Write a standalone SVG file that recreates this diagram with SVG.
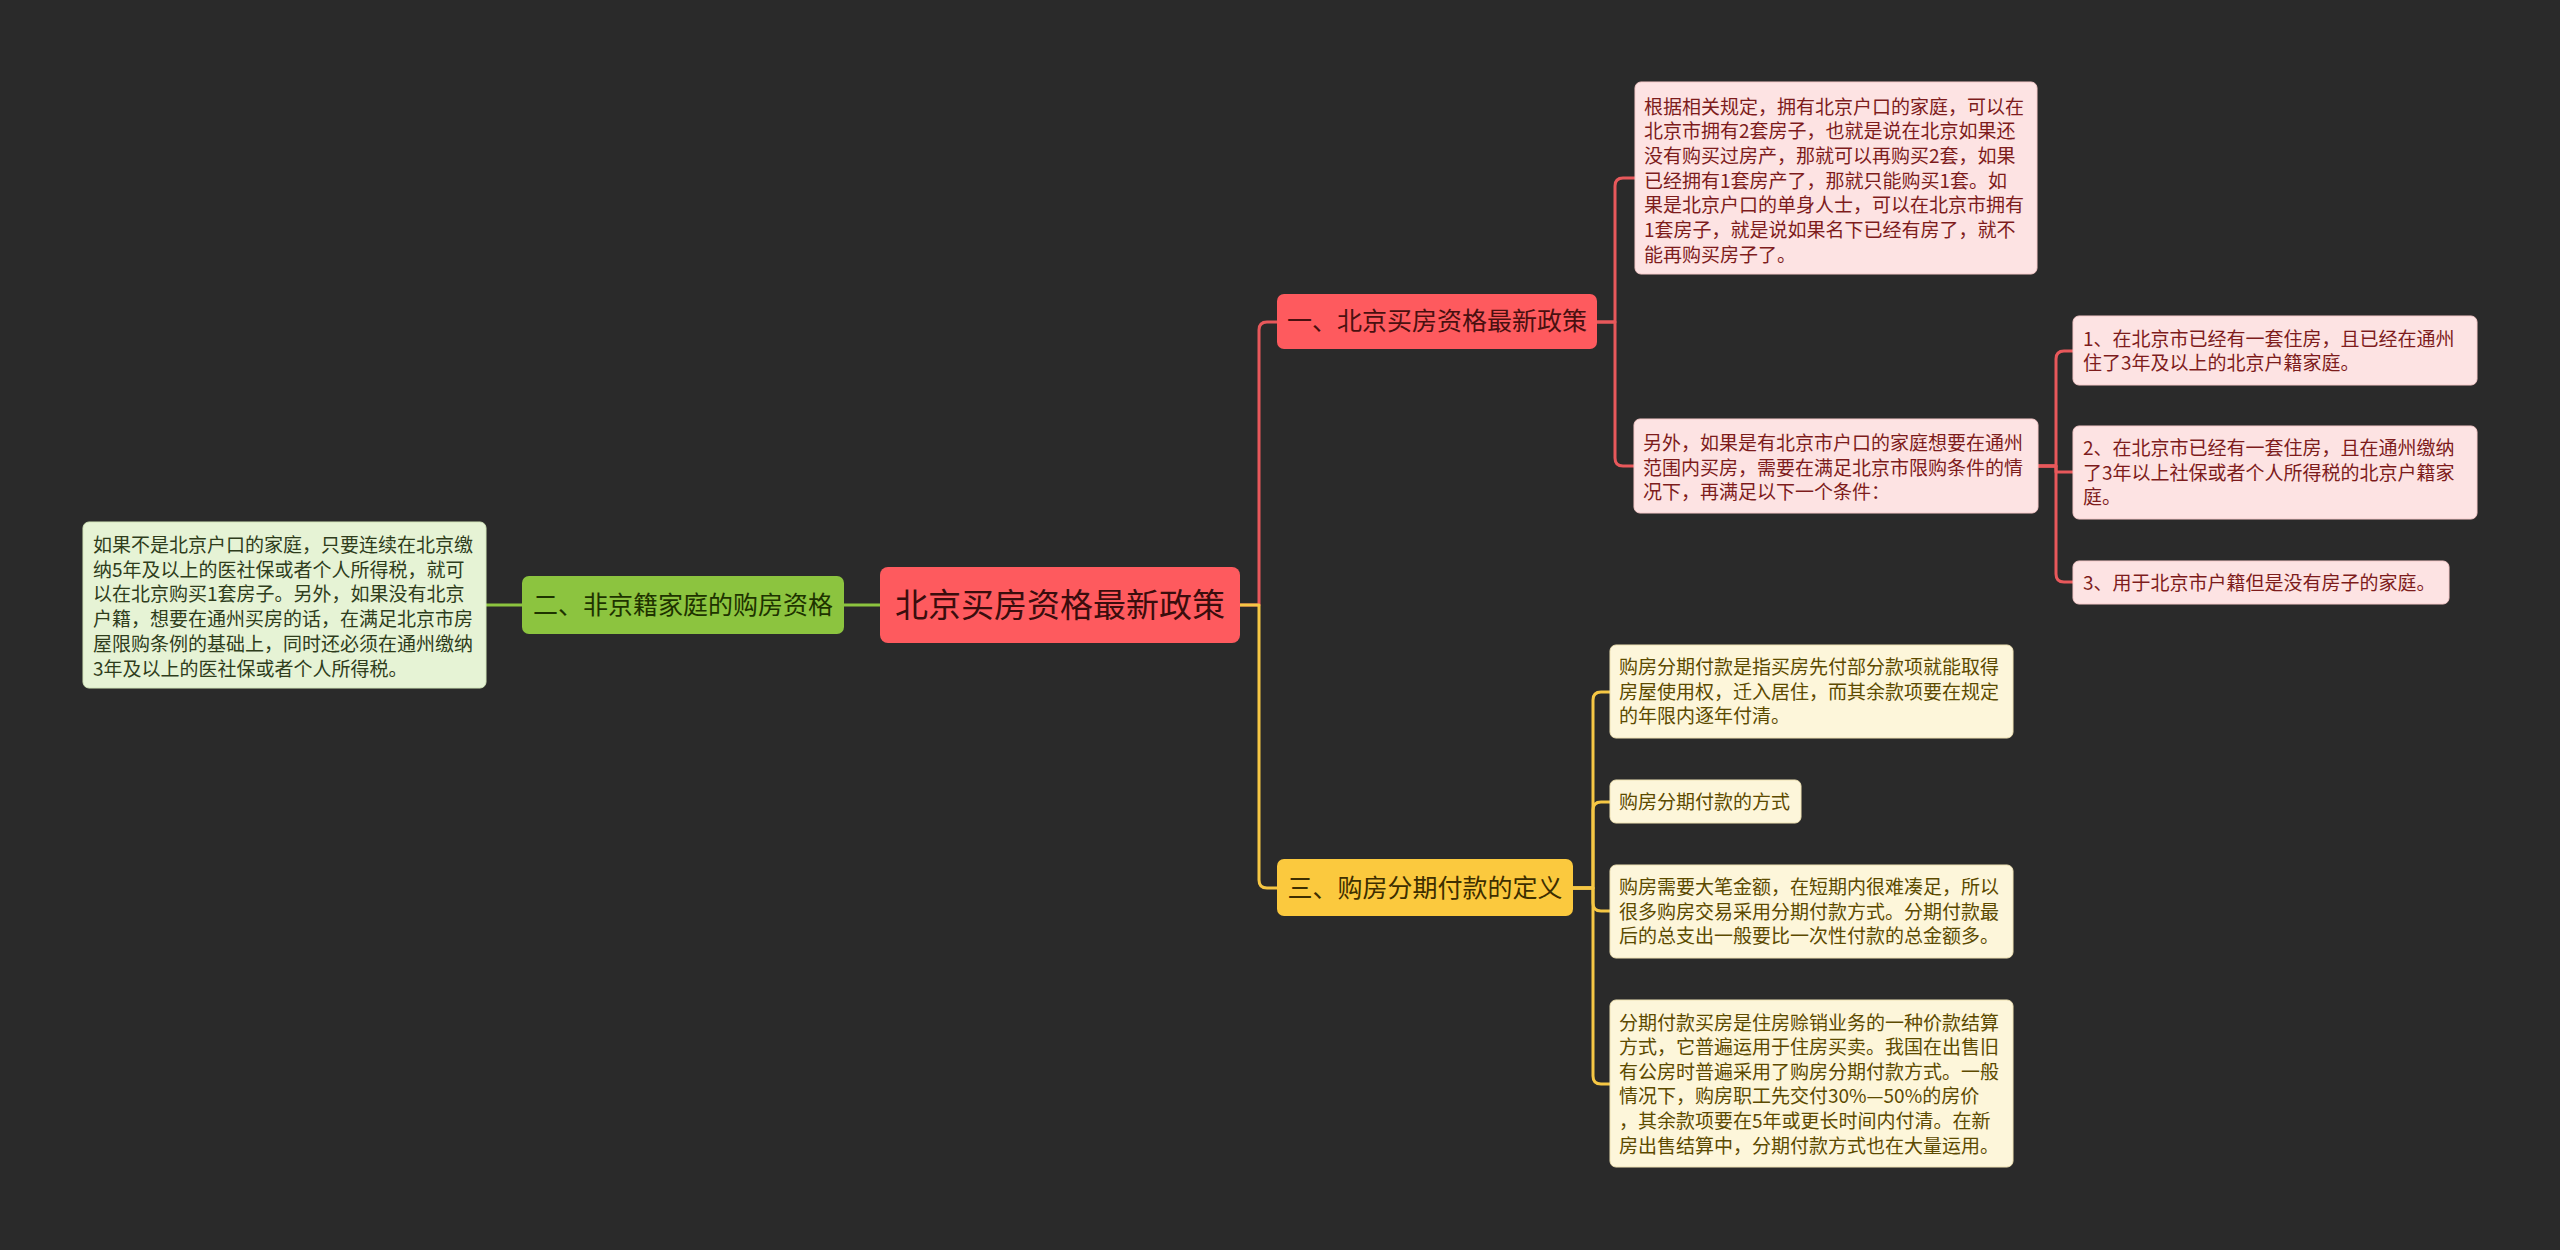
<svg xmlns="http://www.w3.org/2000/svg" width="2560" height="1250" viewBox="0 0 2560 1250">
<style>
text{font-family:"Noto Sans CJK SC","Noto Sans",sans-serif}
.leaf{font-size:19px}
.br{font-size:25px}
.c{fill:none;stroke-width:3;stroke-linecap:round;stroke-linejoin:round}
.cr{stroke:#e8585b}
.cy{stroke:#f6c744}
.cg{stroke:#8cc43f}
.rl{fill:#fde3e3;stroke:#f6caca;stroke-width:1}
.rt{fill:#7d1c1c}
.yl{fill:#fdf6da;stroke:#efe2b4;stroke-width:1}
.yt{fill:#5c4a00}
.gl{fill:#e6f3d5;stroke:#d3e6ba;stroke-width:1}
.gt{fill:#2f3d1c}
</style>
<rect width="2560" height="1250" fill="#2a2a2a"/>
<g id="connectors">
<path class="c cg" d="M880,605 H844"/>
<path class="c cg" d="M522,605 H486"/>
<path class="c cr" d="M1240,605 H1259 V330 Q1259,322 1267,322 H1277"/>
<path class="c cy" d="M1240,605 H1259 V880 Q1259,888 1267,888 H1277"/>
<path class="c cr" d="M1597,322 H1615 V186 Q1615,178 1623,178 H1635"/>
<path class="c cr" d="M1597,322 H1615 V458 Q1615,466 1623,466 H1634"/>
<path class="c cr" d="M2038,466 H2056 V359 Q2056,351 2064,351 H2073"/>
<path class="c cr" d="M2038,466 H2056 V472 H2073"/>
<path class="c cr" d="M2038,466 H2056 V574 Q2056,582 2064,582 H2073"/>
<path class="c cy" d="M1573,888 H1593 V700 Q1593,692 1601,692 H1610"/>
<path class="c cy" d="M1573,888 H1593 V810 Q1593,802 1601,802 H1610"/>
<path class="c cy" d="M1573,888 H1593 V903 Q1593,911 1601,911 H1610"/>
<path class="c cy" d="M1573,888 H1593 V1076 Q1593,1084 1601,1084 H1610"/>
</g>
<g id="root">
<rect x="880" y="567" width="360" height="76" rx="8" fill="#fe5a5e"/>
<text x="1060" y="617" font-size="33" text-anchor="middle" fill="#3a0d0d">北京买房资格最新政策</text>
</g>
<g id="branch-green">
<rect x="522" y="576" width="322" height="58" rx="7" fill="#8cc43f"/>
<text class="br" x="683" y="614" text-anchor="middle" fill="#1e3300">二、非京籍家庭的购房资格</text>
</g>
<g id="leaf-green">
<rect class="gl" x="83" y="522" width="403" height="166" rx="6"/>
<text class="leaf gt">
<tspan x="93" y="552">如果不是北京户口的家庭，只要连续在北京缴</tspan>
<tspan x="93" y="576.7">纳5年及以上的医社保或者个人所得税，就可</tspan>
<tspan x="93" y="601.4">以在北京购买1套房子。另外，如果没有北京</tspan>
<tspan x="93" y="626.1">户籍，想要在通州买房的话，在满足北京市房</tspan>
<tspan x="93" y="650.8">屋限购条例的基础上，同时还必须在通州缴纳</tspan>
<tspan x="93" y="675.5">3年及以上的医社保或者个人所得税。</tspan>
</text>
</g>
<g id="branch-red">
<rect x="1277" y="294" width="320" height="55" rx="7" fill="#fe5a5e"/>
<text class="br" x="1437" y="330" text-anchor="middle" fill="#4a1010">一、北京买房资格最新政策</text>
</g>
<g id="leaf-red-a">
<rect class="rl" x="1635" y="82" width="402" height="192" rx="6"/>
<text class="leaf rt">
<tspan x="1644" y="113.5">根据相关规定，拥有北京户口的家庭，可以在</tspan>
<tspan x="1644" y="138.2">北京市拥有2套房子，也就是说在北京如果还</tspan>
<tspan x="1644" y="162.9">没有购买过房产，那就可以再购买2套，如果</tspan>
<tspan x="1644" y="187.6">已经拥有1套房产了，那就只能购买1套。如</tspan>
<tspan x="1644" y="212.3">果是北京户口的单身人士，可以在北京市拥有</tspan>
<tspan x="1644" y="237">1套房子，就是说如果名下已经有房了，就不</tspan>
<tspan x="1644" y="261.7">能再购买房子了。</tspan>
</text>
</g>
<g id="leaf-red-b">
<rect class="rl" x="1634" y="419" width="404" height="94" rx="6"/>
<text class="leaf rt">
<tspan x="1643" y="450">另外，如果是有北京市户口的家庭想要在通州</tspan>
<tspan x="1643" y="474.6">范围内买房，需要在满足北京市限购条件的情</tspan>
<tspan x="1643" y="499.2">况下，再满足以下一个条件：</tspan>
</text>
</g>
<g id="leaf-red-c1">
<rect class="rl" x="2073" y="316" width="404" height="69" rx="6"/>
<text class="leaf rt">
<tspan x="2083" y="345.5">1、在北京市已经有一套住房，且已经在通州</tspan>
<tspan x="2083" y="370.1">住了3年及以上的北京户籍家庭。</tspan>
</text>
</g>
<g id="leaf-red-c2">
<rect class="rl" x="2073" y="426" width="404" height="93" rx="6"/>
<text class="leaf rt">
<tspan x="2083" y="455">2、在北京市已经有一套住房，且在通州缴纳</tspan>
<tspan x="2083" y="479.6">了3年以上社保或者个人所得税的北京户籍家</tspan>
<tspan x="2083" y="504.2">庭。</tspan>
</text>
</g>
<g id="leaf-red-c3">
<rect class="rl" x="2073" y="561" width="376" height="43" rx="6"/>
<text class="leaf rt" x="2083" y="589.5">3、用于北京市户籍但是没有房子的家庭。</text>
</g>
<g id="branch-yellow">
<rect x="1277" y="859" width="296" height="57" rx="7" fill="#fbc93e"/>
<text class="br" x="1425" y="896.5" text-anchor="middle" fill="#3d2e00">三、购房分期付款的定义</text>
</g>
<g id="leaf-yellow-1">
<rect class="yl" x="1610" y="645" width="403" height="93" rx="6"/>
<text class="leaf yt">
<tspan x="1619" y="674">购房分期付款是指买房先付部分款项就能取得</tspan>
<tspan x="1619" y="698.6">房屋使用权，迁入居住，而其余款项要在规定</tspan>
<tspan x="1619" y="723.2">的年限内逐年付清。</tspan>
</text>
</g>
<g id="leaf-yellow-2">
<rect class="yl" x="1610" y="780" width="191" height="43" rx="6"/>
<text class="leaf yt" x="1619" y="808.5">购房分期付款的方式</text>
</g>
<g id="leaf-yellow-3">
<rect class="yl" x="1610" y="865" width="403" height="93" rx="6"/>
<text class="leaf yt">
<tspan x="1619" y="894">购房需要大笔金额，在短期内很难凑足，所以</tspan>
<tspan x="1619" y="918.6">很多购房交易采用分期付款方式。分期付款最</tspan>
<tspan x="1619" y="943.2">后的总支出一般要比一次性付款的总金额多。</tspan>
</text>
</g>
<g id="leaf-yellow-4">
<rect class="yl" x="1610" y="1000" width="403" height="167" rx="6"/>
<text class="leaf yt">
<tspan x="1619" y="1029.5">分期付款买房是住房赊销业务的一种价款结算</tspan>
<tspan x="1619" y="1054.1">方式，它普遍运用于住房买卖。我国在出售旧</tspan>
<tspan x="1619" y="1078.7">有公房时普遍采用了购房分期付款方式。一般</tspan>
<tspan x="1619" y="1103.3">情况下，购房职工先交付30%—50%的房价</tspan>
<tspan x="1619" y="1127.9">，其余款项要在5年或更长时间内付清。在新</tspan>
<tspan x="1619" y="1152.5">房出售结算中，分期付款方式也在大量运用。</tspan>
</text>
</g>
</svg>
